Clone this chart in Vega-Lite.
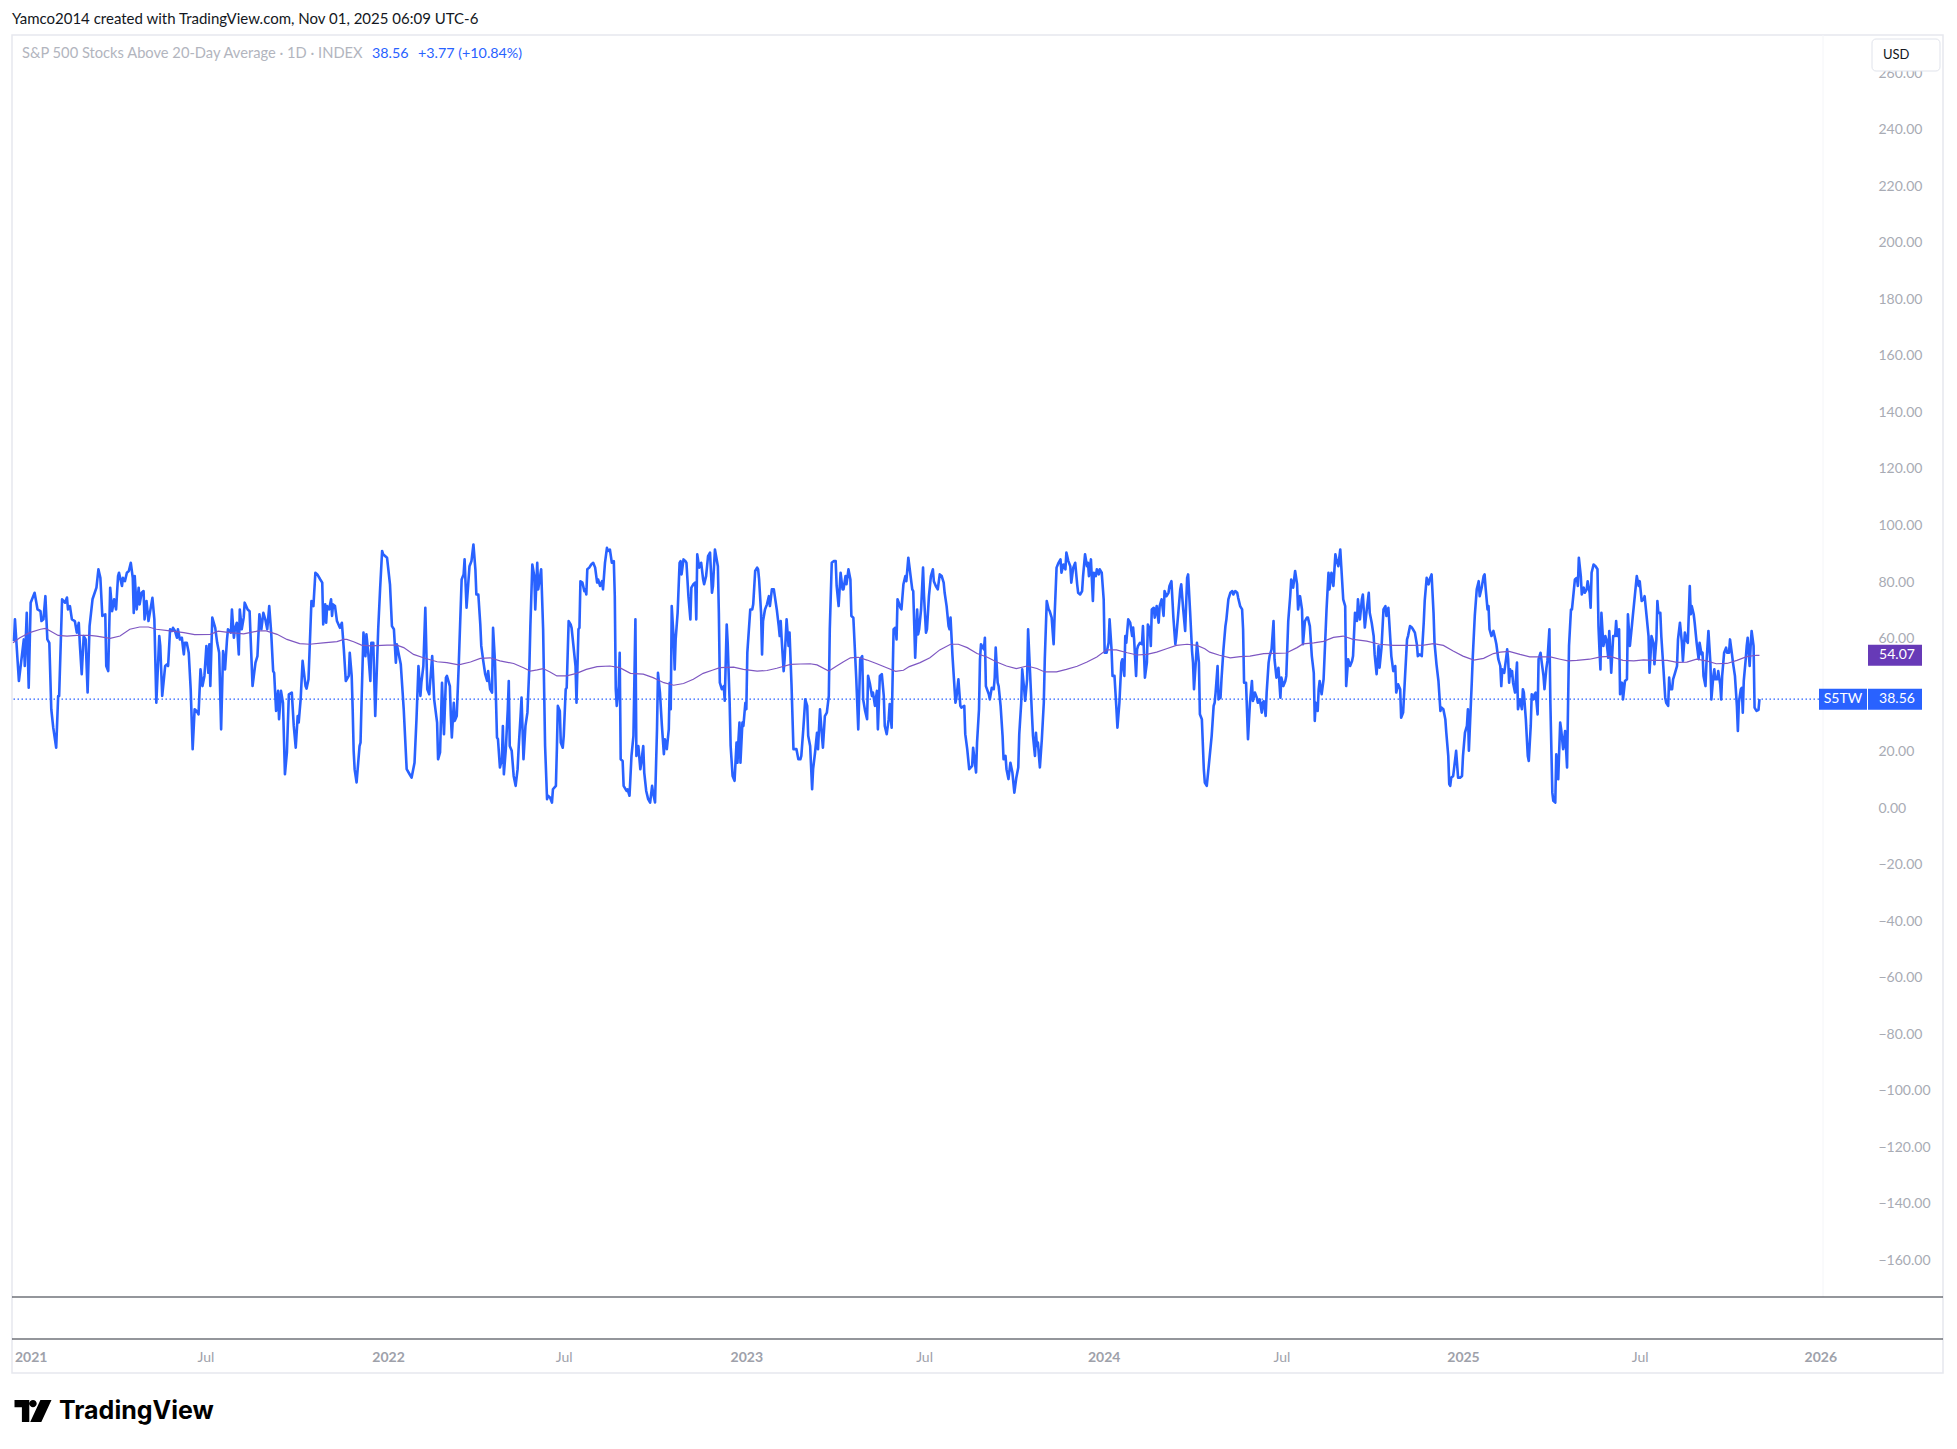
{
"$schema": "https://vega.github.io/schema/vega-lite/v6.json",
"width": 1810,
"height": 1262,
"autosize": {"type": "none"},
"padding": {"left": 13, "top": 35, "right": 134, "bottom": 152},
"background": "#ffffff",
"config": {"view": {"stroke": null}, "font": "Lato"},
"datasets": {
"s5tw": [
{"date":"2020-12-18","value":59.1},{"date":"2020-12-19","value":66.8},{"date":"2020-12-23","value":45.0},{"date":"2020-12-26","value":53.8},{"date":"2020-12-28","value":59.7},{"date":"2020-12-29","value":50.3},{"date":"2020-12-31","value":69.1},
{"date":"2021-01-02","value":42.6},{"date":"2021-01-04","value":72.7},{"date":"2021-01-08","value":76.2},{"date":"2021-01-11","value":70.3},{"date":"2021-01-14","value":69.7},{"date":"2021-01-15","value":66.2},{"date":"2021-01-17","value":66.8},{"date":"2021-01-19","value":75.0},{"date":"2021-01-21","value":59.7},{"date":"2021-01-23","value":58.5},{"date":"2021-01-25","value":35.0},{"date":"2021-01-27","value":28.5},{"date":"2021-01-30","value":21.4},
{"date":"2021-02-01","value":39.7},{"date":"2021-02-02","value":39.7},{"date":"2021-02-05","value":73.9},{"date":"2021-02-08","value":72.7},{"date":"2021-02-10","value":74.5},{"date":"2021-02-11","value":70.3},{"date":"2021-02-13","value":71.5},{"date":"2021-02-15","value":66.8},{"date":"2021-02-18","value":66.2},{"date":"2021-02-20","value":62.1},{"date":"2021-02-22","value":65.6},{"date":"2021-02-23","value":58.5},{"date":"2021-02-25","value":47.4},{"date":"2021-02-27","value":60.9},
{"date":"2021-03-01","value":59.7},{"date":"2021-03-03","value":40.9},{"date":"2021-03-05","value":64.4},{"date":"2021-03-08","value":73.9},{"date":"2021-03-12","value":78.0},{"date":"2021-03-14","value":84.5},{"date":"2021-03-16","value":81.5},{"date":"2021-03-18","value":68.0},{"date":"2021-03-21","value":68.6},{"date":"2021-03-22","value":50.3},{"date":"2021-03-24","value":48.5},{"date":"2021-03-26","value":78.0},{"date":"2021-03-28","value":69.7},{"date":"2021-03-30","value":73.9},
{"date":"2021-04-01","value":70.3},{"date":"2021-04-03","value":82.1},{"date":"2021-04-04","value":83.3},{"date":"2021-04-07","value":78.6},{"date":"2021-04-08","value":81.5},{"date":"2021-04-10","value":80.3},{"date":"2021-04-12","value":83.3},{"date":"2021-04-14","value":83.9},{"date":"2021-04-16","value":86.8},{"date":"2021-04-18","value":81.5},{"date":"2021-04-19","value":69.1},{"date":"2021-04-20","value":82.1},{"date":"2021-04-22","value":70.3},{"date":"2021-04-24","value":78.0},{"date":"2021-04-25","value":72.1},{"date":"2021-04-27","value":76.2},{"date":"2021-04-29","value":76.8},{"date":"2021-04-30","value":66.8},
{"date":"2021-05-02","value":73.3},{"date":"2021-05-04","value":66.2},{"date":"2021-05-06","value":70.3},{"date":"2021-05-08","value":74.4},{"date":"2021-05-10","value":66.8},{"date":"2021-05-12","value":37.3},{"date":"2021-05-15","value":60.9},{"date":"2021-05-16","value":57.4},{"date":"2021-05-18","value":39.7},{"date":"2021-05-21","value":50.3},{"date":"2021-05-23","value":50.9},{"date":"2021-05-24","value":50.3},{"date":"2021-05-26","value":63.3},{"date":"2021-05-28","value":62.7},{"date":"2021-05-29","value":63.8},{"date":"2021-05-31","value":62.7},
{"date":"2021-06-02","value":60.3},{"date":"2021-06-03","value":63.3},{"date":"2021-06-05","value":59.7},{"date":"2021-06-07","value":60.3},{"date":"2021-06-09","value":54.4},{"date":"2021-06-10","value":58.5},{"date":"2021-06-12","value":58.5},{"date":"2021-06-14","value":55.0},{"date":"2021-06-16","value":42.1},{"date":"2021-06-18","value":20.9},{"date":"2021-06-20","value":35.0},{"date":"2021-06-22","value":34.4},{"date":"2021-06-24","value":33.2},{"date":"2021-06-26","value":49.1},{"date":"2021-06-28","value":43.2},{"date":"2021-06-30","value":46.8},
{"date":"2021-07-02","value":57.4},{"date":"2021-07-04","value":47.9},{"date":"2021-07-05","value":58.0},{"date":"2021-07-06","value":43.2},{"date":"2021-07-08","value":67.4},{"date":"2021-07-11","value":63.8},{"date":"2021-07-13","value":58.5},{"date":"2021-07-15","value":55.0},{"date":"2021-07-17","value":27.9},{"date":"2021-07-19","value":55.6},{"date":"2021-07-21","value":49.1},{"date":"2021-07-23","value":59.7},{"date":"2021-07-24","value":63.3},{"date":"2021-07-27","value":62.1},{"date":"2021-07-28","value":70.3},{"date":"2021-07-30","value":60.3},{"date":"2021-07-31","value":63.3},
{"date":"2021-08-02","value":65.6},{"date":"2021-08-04","value":54.4},{"date":"2021-08-05","value":70.3},{"date":"2021-08-07","value":63.3},{"date":"2021-08-09","value":67.4},{"date":"2021-08-10","value":72.7},{"date":"2021-08-13","value":70.3},{"date":"2021-08-15","value":69.7},{"date":"2021-08-18","value":43.2},{"date":"2021-08-21","value":51.5},{"date":"2021-08-23","value":53.8},{"date":"2021-08-25","value":68.6},{"date":"2021-08-27","value":63.3},{"date":"2021-08-29","value":69.1},{"date":"2021-08-31","value":66.8},
{"date":"2021-09-02","value":63.3},{"date":"2021-09-04","value":71.5},{"date":"2021-09-06","value":62.1},{"date":"2021-09-08","value":48.5},{"date":"2021-09-09","value":47.9},{"date":"2021-09-11","value":34.4},{"date":"2021-09-13","value":41.5},{"date":"2021-09-14","value":31.5},{"date":"2021-09-16","value":41.5},{"date":"2021-09-18","value":37.3},{"date":"2021-09-20","value":12.0},{"date":"2021-09-22","value":19.7},{"date":"2021-09-24","value":40.3},{"date":"2021-09-27","value":40.9},{"date":"2021-09-29","value":29.1},
{"date":"2021-10-01","value":21.4},{"date":"2021-10-03","value":32.6},{"date":"2021-10-04","value":30.3},{"date":"2021-10-06","value":38.5},{"date":"2021-10-08","value":52.1},{"date":"2021-10-11","value":43.2},{"date":"2021-10-12","value":42.3},{"date":"2021-10-14","value":45.6},{"date":"2021-10-17","value":73.3},{"date":"2021-10-19","value":71.5},{"date":"2021-10-21","value":83.3},{"date":"2021-10-23","value":82.7},{"date":"2021-10-26","value":80.9},{"date":"2021-10-28","value":79.8},{"date":"2021-10-29","value":65.0},{"date":"2021-10-31","value":72.1},
{"date":"2021-11-01","value":65.6},{"date":"2021-11-02","value":71.5},{"date":"2021-11-04","value":70.3},{"date":"2021-11-06","value":73.9},{"date":"2021-11-07","value":68.0},{"date":"2021-11-08","value":72.1},{"date":"2021-11-10","value":71.5},{"date":"2021-11-12","value":66.2},{"date":"2021-11-15","value":63.8},{"date":"2021-11-17","value":65.6},{"date":"2021-11-19","value":56.2},{"date":"2021-11-21","value":45.0},{"date":"2021-11-24","value":46.8},{"date":"2021-11-25","value":55.0},{"date":"2021-11-27","value":46.8},{"date":"2021-11-28","value":35.0},{"date":"2021-11-29","value":20.3},{"date":"2021-11-30","value":13.8},
{"date":"2021-12-02","value":9.1},{"date":"2021-12-05","value":22.0},{"date":"2021-12-06","value":23.2},{"date":"2021-12-07","value":37.3},{"date":"2021-12-09","value":62.1},{"date":"2021-12-11","value":53.8},{"date":"2021-12-12","value":61.5},{"date":"2021-12-14","value":54.4},{"date":"2021-12-16","value":45.0},{"date":"2021-12-17","value":58.5},{"date":"2021-12-19","value":58.5},{"date":"2021-12-21","value":32.6},{"date":"2021-12-24","value":63.3},{"date":"2021-12-26","value":78.0},{"date":"2021-12-28","value":91.0},{"date":"2021-12-29","value":89.8},
{"date":"2022-01-02","value":88.6},{"date":"2022-01-05","value":79.2},{"date":"2022-01-07","value":64.4},{"date":"2022-01-09","value":63.3},{"date":"2022-01-11","value":51.5},{"date":"2022-01-12","value":58.0},{"date":"2022-01-14","value":54.4},{"date":"2022-01-16","value":50.9},{"date":"2022-01-19","value":35.0},{"date":"2022-01-22","value":13.8},{"date":"2022-01-25","value":12.0},{"date":"2022-01-27","value":10.8},{"date":"2022-01-30","value":16.1},
{"date":"2022-02-01","value":31.5},{"date":"2022-02-03","value":50.3},{"date":"2022-02-05","value":39.7},{"date":"2022-02-06","value":44.4},{"date":"2022-02-08","value":50.3},{"date":"2022-02-10","value":70.9},{"date":"2022-02-12","value":42.1},{"date":"2022-02-14","value":40.3},{"date":"2022-02-17","value":53.8},{"date":"2022-02-19","value":38.5},{"date":"2022-02-22","value":30.3},{"date":"2022-02-23","value":17.3},{"date":"2022-02-25","value":19.7},{"date":"2022-02-27","value":44.4},{"date":"2022-02-28","value":35.0},
{"date":"2022-03-01","value":26.2},{"date":"2022-03-03","value":46.2},{"date":"2022-03-04","value":46.8},{"date":"2022-03-07","value":43.2},{"date":"2022-03-08","value":32.6},{"date":"2022-03-09","value":25.0},{"date":"2022-03-11","value":37.3},{"date":"2022-03-12","value":30.9},{"date":"2022-03-14","value":32.6},{"date":"2022-03-16","value":50.3},{"date":"2022-03-19","value":80.9},{"date":"2022-03-21","value":82.7},{"date":"2022-03-22","value":88.0},{"date":"2022-03-24","value":70.9},{"date":"2022-03-27","value":85.6},{"date":"2022-03-29","value":87.4},{"date":"2022-03-31","value":93.3},
{"date":"2022-04-02","value":84.5},{"date":"2022-04-03","value":75.6},{"date":"2022-04-05","value":75.6},{"date":"2022-04-07","value":65.0},{"date":"2022-04-08","value":57.4},{"date":"2022-04-10","value":52.1},{"date":"2022-04-12","value":47.4},{"date":"2022-04-14","value":45.0},{"date":"2022-04-15","value":48.5},{"date":"2022-04-17","value":42.1},{"date":"2022-04-19","value":40.9},{"date":"2022-04-20","value":63.8},{"date":"2022-04-22","value":51.5},{"date":"2022-04-24","value":25.0},{"date":"2022-04-25","value":24.4},{"date":"2022-04-27","value":14.4},{"date":"2022-04-29","value":17.3},{"date":"2022-04-30","value":29.1},
{"date":"2022-05-01","value":12.0},{"date":"2022-05-03","value":20.9},{"date":"2022-05-05","value":35.0},{"date":"2022-05-06","value":45.0},{"date":"2022-05-07","value":22.0},{"date":"2022-05-09","value":20.3},{"date":"2022-05-11","value":11.4},{"date":"2022-05-13","value":7.9},{"date":"2022-05-15","value":13.8},{"date":"2022-05-16","value":20.9},{"date":"2022-05-18","value":32.6},{"date":"2022-05-19","value":39.1},{"date":"2022-05-21","value":17.3},{"date":"2022-05-23","value":29.1},{"date":"2022-05-25","value":33.8},{"date":"2022-05-27","value":50.3},{"date":"2022-05-28","value":64.4},{"date":"2022-05-30","value":86.2},
{"date":"2022-06-01","value":82.1},{"date":"2022-06-02","value":70.3},{"date":"2022-06-04","value":86.8},{"date":"2022-06-05","value":77.4},{"date":"2022-06-06","value":79.8},{"date":"2022-06-08","value":84.5},{"date":"2022-06-10","value":63.3},{"date":"2022-06-12","value":22.0},{"date":"2022-06-14","value":3.2},{"date":"2022-06-15","value":4.4},{"date":"2022-06-17","value":3.8},{"date":"2022-06-19","value":2.0},{"date":"2022-06-20","value":6.7},{"date":"2022-06-23","value":7.9},{"date":"2022-06-24","value":20.9},{"date":"2022-06-25","value":36.2},{"date":"2022-06-27","value":34.4},{"date":"2022-06-28","value":23.2},{"date":"2022-06-30","value":21.4},
{"date":"2022-07-01","value":25.6},{"date":"2022-07-03","value":42.1},{"date":"2022-07-04","value":42.6},{"date":"2022-07-06","value":66.2},{"date":"2022-07-08","value":65.0},{"date":"2022-07-09","value":63.8},{"date":"2022-07-13","value":50.3},{"date":"2022-07-14","value":37.3},{"date":"2022-07-16","value":63.3},{"date":"2022-07-17","value":63.8},{"date":"2022-07-18","value":80.3},{"date":"2022-07-20","value":79.8},{"date":"2022-07-22","value":76.8},{"date":"2022-07-23","value":77.4},{"date":"2022-07-24","value":75.6},{"date":"2022-07-25","value":84.5},{"date":"2022-07-27","value":85.1},{"date":"2022-07-29","value":86.2},{"date":"2022-07-31","value":86.8},
{"date":"2022-08-02","value":85.1},{"date":"2022-08-04","value":79.8},{"date":"2022-08-05","value":80.9},{"date":"2022-08-07","value":78.6},{"date":"2022-08-09","value":80.3},{"date":"2022-08-10","value":77.4},{"date":"2022-08-12","value":86.8},{"date":"2022-08-14","value":92.1},{"date":"2022-08-15","value":91.0},{"date":"2022-08-17","value":91.5},{"date":"2022-08-19","value":86.8},{"date":"2022-08-21","value":87.4},{"date":"2022-08-22","value":75.0},{"date":"2022-08-23","value":42.1},{"date":"2022-08-24","value":36.2},{"date":"2022-08-26","value":43.2},{"date":"2022-08-27","value":55.0},{"date":"2022-08-28","value":17.3},{"date":"2022-08-30","value":16.7},{"date":"2022-08-31","value":7.9},
{"date":"2022-09-03","value":6.1},{"date":"2022-09-04","value":6.7},{"date":"2022-09-06","value":4.4},{"date":"2022-09-08","value":18.5},{"date":"2022-09-10","value":25.6},{"date":"2022-09-12","value":66.8},{"date":"2022-09-13","value":18.5},{"date":"2022-09-15","value":22.0},{"date":"2022-09-17","value":13.8},{"date":"2022-09-18","value":16.1},{"date":"2022-09-20","value":22.0},{"date":"2022-09-21","value":12.6},{"date":"2022-09-23","value":6.1},{"date":"2022-09-25","value":3.2},{"date":"2022-09-27","value":2.0},{"date":"2022-09-29","value":7.9},{"date":"2022-09-30","value":5.5},
{"date":"2022-10-02","value":2.0},{"date":"2022-10-04","value":27.9},{"date":"2022-10-05","value":47.9},{"date":"2022-10-07","value":40.9},{"date":"2022-10-09","value":29.1},{"date":"2022-10-11","value":19.1},{"date":"2022-10-12","value":24.4},{"date":"2022-10-14","value":20.9},{"date":"2022-10-16","value":27.9},{"date":"2022-10-17","value":44.4},{"date":"2022-10-18","value":35.0},{"date":"2022-10-19","value":71.5},{"date":"2022-10-21","value":59.7},{"date":"2022-10-22","value":49.1},{"date":"2022-10-23","value":59.7},{"date":"2022-10-25","value":69.1},{"date":"2022-10-27","value":86.8},{"date":"2022-10-28","value":87.4},{"date":"2022-10-29","value":82.7},{"date":"2022-10-31","value":88.0},
{"date":"2022-11-02","value":87.4},{"date":"2022-11-03","value":86.8},{"date":"2022-11-05","value":75.0},{"date":"2022-11-07","value":66.8},{"date":"2022-11-08","value":78.0},{"date":"2022-11-10","value":79.2},{"date":"2022-11-12","value":79.8},{"date":"2022-11-13","value":66.8},{"date":"2022-11-14","value":89.8},{"date":"2022-11-16","value":85.1},{"date":"2022-11-18","value":86.8},{"date":"2022-11-20","value":80.9},{"date":"2022-11-21","value":79.2},{"date":"2022-11-23","value":82.1},{"date":"2022-11-25","value":89.2},{"date":"2022-11-27","value":90.4},{"date":"2022-11-29","value":76.2},{"date":"2022-11-30","value":78.6},
{"date":"2022-12-02","value":91.5},{"date":"2022-12-05","value":85.6},{"date":"2022-12-06","value":69.1},{"date":"2022-12-07","value":44.4},{"date":"2022-12-09","value":42.1},{"date":"2022-12-11","value":43.2},{"date":"2022-12-12","value":38.0},{"date":"2022-12-14","value":65.0},{"date":"2022-12-15","value":58.5},{"date":"2022-12-17","value":37.3},{"date":"2022-12-18","value":22.0},{"date":"2022-12-20","value":11.4},{"date":"2022-12-22","value":9.7},{"date":"2022-12-24","value":23.2},{"date":"2022-12-25","value":16.1},{"date":"2022-12-26","value":24.4},{"date":"2022-12-27","value":30.3},{"date":"2022-12-28","value":16.1},{"date":"2022-12-30","value":30.3},{"date":"2022-12-31","value":29.1},
{"date":"2023-01-02","value":37.3},{"date":"2023-01-03","value":35.0},{"date":"2023-01-04","value":55.0},{"date":"2023-01-07","value":70.3},{"date":"2023-01-09","value":70.3},{"date":"2023-01-10","value":72.1},{"date":"2023-01-12","value":83.9},{"date":"2023-01-14","value":85.1},{"date":"2023-01-15","value":84.5},{"date":"2023-01-16","value":80.9},{"date":"2023-01-18","value":69.1},{"date":"2023-01-19","value":54.4},{"date":"2023-01-20","value":66.2},{"date":"2023-01-22","value":70.3},{"date":"2023-01-24","value":72.1},{"date":"2023-01-26","value":75.0},{"date":"2023-01-27","value":71.5},{"date":"2023-01-29","value":77.4},{"date":"2023-01-31","value":77.4},
{"date":"2023-02-01","value":75.0},{"date":"2023-02-03","value":70.3},{"date":"2023-02-05","value":64.4},{"date":"2023-02-06","value":60.9},{"date":"2023-02-07","value":66.2},{"date":"2023-02-08","value":59.7},{"date":"2023-02-10","value":48.5},{"date":"2023-02-11","value":52.7},{"date":"2023-02-13","value":66.8},{"date":"2023-02-15","value":57.4},{"date":"2023-02-16","value":62.1},{"date":"2023-02-18","value":43.8},{"date":"2023-02-20","value":20.9},{"date":"2023-02-22","value":20.9},{"date":"2023-02-23","value":20.9},{"date":"2023-02-25","value":17.3},{"date":"2023-02-27","value":17.3},{"date":"2023-02-28","value":18.5},
{"date":"2023-03-02","value":27.9},{"date":"2023-03-04","value":38.5},{"date":"2023-03-06","value":36.2},{"date":"2023-03-07","value":25.6},{"date":"2023-03-09","value":22.0},{"date":"2023-03-11","value":6.7},{"date":"2023-03-12","value":13.8},{"date":"2023-03-14","value":19.7},{"date":"2023-03-16","value":26.7},{"date":"2023-03-17","value":20.9},{"date":"2023-03-19","value":35.0},{"date":"2023-03-21","value":25.6},{"date":"2023-03-22","value":21.4},{"date":"2023-03-24","value":32.6},{"date":"2023-03-26","value":33.8},{"date":"2023-03-28","value":39.7},{"date":"2023-03-29","value":63.3},{"date":"2023-03-31","value":86.8},
{"date":"2023-04-02","value":87.4},{"date":"2023-04-04","value":87.4},{"date":"2023-04-05","value":78.6},{"date":"2023-04-07","value":71.5},{"date":"2023-04-09","value":83.3},{"date":"2023-04-11","value":77.4},{"date":"2023-04-12","value":77.4},{"date":"2023-04-14","value":82.1},{"date":"2023-04-15","value":79.2},{"date":"2023-04-17","value":84.5},{"date":"2023-04-19","value":80.9},{"date":"2023-04-20","value":68.0},{"date":"2023-04-22","value":67.4},{"date":"2023-04-25","value":45.6},{"date":"2023-04-27","value":27.9},{"date":"2023-04-29","value":52.7},
{"date":"2023-05-01","value":53.8},{"date":"2023-05-02","value":38.5},{"date":"2023-05-04","value":34.4},{"date":"2023-05-06","value":31.5},{"date":"2023-05-07","value":46.8},{"date":"2023-05-09","value":43.8},{"date":"2023-05-11","value":39.7},{"date":"2023-05-12","value":40.9},{"date":"2023-05-14","value":36.2},{"date":"2023-05-16","value":41.5},{"date":"2023-05-17","value":27.9},{"date":"2023-05-19","value":46.8},{"date":"2023-05-21","value":47.4},{"date":"2023-05-23","value":39.7},{"date":"2023-05-24","value":29.1},{"date":"2023-05-26","value":26.2},{"date":"2023-05-28","value":31.5},{"date":"2023-05-29","value":36.8},{"date":"2023-05-31","value":28.5},
{"date":"2023-06-02","value":63.3},{"date":"2023-06-04","value":63.9},{"date":"2023-06-05","value":59.7},{"date":"2023-06-06","value":73.9},{"date":"2023-06-09","value":70.9},{"date":"2023-06-10","value":70.3},{"date":"2023-06-12","value":79.2},{"date":"2023-06-14","value":82.1},{"date":"2023-06-15","value":80.3},{"date":"2023-06-17","value":88.6},{"date":"2023-06-21","value":77.4},{"date":"2023-06-22","value":76.8},{"date":"2023-06-24","value":53.2},{"date":"2023-06-26","value":70.3},{"date":"2023-06-27","value":61.5},{"date":"2023-06-28","value":63.3},{"date":"2023-06-30","value":70.3},
{"date":"2023-07-02","value":85.1},{"date":"2023-07-03","value":75.0},{"date":"2023-07-05","value":62.1},{"date":"2023-07-06","value":63.3},{"date":"2023-07-08","value":75.0},{"date":"2023-07-10","value":82.1},{"date":"2023-07-12","value":84.5},{"date":"2023-07-13","value":80.3},{"date":"2023-07-15","value":78.6},{"date":"2023-07-17","value":77.4},{"date":"2023-07-19","value":82.7},{"date":"2023-07-21","value":82.1},{"date":"2023-07-23","value":79.8},{"date":"2023-07-24","value":76.2},{"date":"2023-07-26","value":71.5},{"date":"2023-07-28","value":64.4},{"date":"2023-07-29","value":63.3},{"date":"2023-07-30","value":67.4},
{"date":"2023-08-01","value":53.8},{"date":"2023-08-04","value":37.3},{"date":"2023-08-05","value":39.1},{"date":"2023-08-07","value":45.6},{"date":"2023-08-09","value":36.2},{"date":"2023-08-10","value":35.6},{"date":"2023-08-13","value":36.2},{"date":"2023-08-14","value":26.2},{"date":"2023-08-16","value":20.9},{"date":"2023-08-18","value":13.8},{"date":"2023-08-21","value":15.0},{"date":"2023-08-22","value":21.4},{"date":"2023-08-25","value":12.6},{"date":"2023-08-26","value":23.2},{"date":"2023-08-28","value":35.0},{"date":"2023-08-29","value":52.7},{"date":"2023-08-30","value":58.0},
{"date":"2023-09-02","value":56.2},{"date":"2023-09-03","value":60.3},{"date":"2023-09-04","value":43.2},{"date":"2023-09-07","value":40.3},{"date":"2023-09-08","value":38.5},{"date":"2023-09-10","value":42.6},{"date":"2023-09-12","value":42.1},{"date":"2023-09-13","value":46.2},{"date":"2023-09-14","value":56.8},{"date":"2023-09-16","value":44.4},{"date":"2023-09-17","value":43.2},{"date":"2023-09-19","value":36.2},{"date":"2023-09-21","value":25.6},{"date":"2023-09-22","value":17.3},{"date":"2023-09-24","value":18.5},{"date":"2023-09-25","value":13.8},{"date":"2023-09-27","value":10.3},{"date":"2023-09-29","value":16.1},
{"date":"2023-10-01","value":12.6},{"date":"2023-10-03","value":5.5},{"date":"2023-10-05","value":10.8},{"date":"2023-10-07","value":14.4},{"date":"2023-10-08","value":26.2},{"date":"2023-10-10","value":37.3},{"date":"2023-10-11","value":49.1},{"date":"2023-10-13","value":42.1},{"date":"2023-10-14","value":38.0},{"date":"2023-10-16","value":45.6},{"date":"2023-10-17","value":63.3},{"date":"2023-10-19","value":47.9},{"date":"2023-10-21","value":32.6},{"date":"2023-10-22","value":25.6},{"date":"2023-10-24","value":18.5},{"date":"2023-10-25","value":26.7},{"date":"2023-10-26","value":22.0},{"date":"2023-10-27","value":23.2},{"date":"2023-10-29","value":14.4},{"date":"2023-10-31","value":24.4},
{"date":"2023-11-02","value":37.3},{"date":"2023-11-03","value":52.7},{"date":"2023-11-05","value":73.3},{"date":"2023-11-07","value":70.3},{"date":"2023-11-08","value":69.7},{"date":"2023-11-10","value":67.4},{"date":"2023-11-12","value":58.0},{"date":"2023-11-13","value":68.0},{"date":"2023-11-15","value":85.1},{"date":"2023-11-17","value":86.8},{"date":"2023-11-19","value":88.0},{"date":"2023-11-20","value":83.3},{"date":"2023-11-22","value":86.2},{"date":"2023-11-24","value":84.5},{"date":"2023-11-25","value":90.4},{"date":"2023-11-27","value":87.4},{"date":"2023-11-29","value":85.6},{"date":"2023-11-30","value":79.8},
{"date":"2023-12-02","value":85.1},{"date":"2023-12-04","value":86.8},{"date":"2023-12-06","value":79.2},{"date":"2023-12-07","value":76.2},{"date":"2023-12-09","value":75.6},{"date":"2023-12-11","value":76.8},{"date":"2023-12-12","value":82.1},{"date":"2023-12-14","value":89.8},{"date":"2023-12-16","value":85.6},{"date":"2023-12-17","value":86.8},{"date":"2023-12-18","value":82.1},{"date":"2023-12-20","value":88.0},{"date":"2023-12-22","value":73.3},{"date":"2023-12-23","value":83.3},{"date":"2023-12-25","value":82.1},{"date":"2023-12-26","value":84.5},{"date":"2023-12-28","value":82.7},{"date":"2023-12-29","value":84.5},{"date":"2023-12-31","value":83.3},
{"date":"2024-01-02","value":73.9},{"date":"2024-01-03","value":55.0},{"date":"2024-01-05","value":55.0},{"date":"2024-01-07","value":58.5},{"date":"2024-01-08","value":66.8},{"date":"2024-01-10","value":56.2},{"date":"2024-01-11","value":46.8},{"date":"2024-01-13","value":46.8},{"date":"2024-01-15","value":35.0},{"date":"2024-01-16","value":28.5},{"date":"2024-01-18","value":37.3},{"date":"2024-01-20","value":51.5},{"date":"2024-01-21","value":52.7},{"date":"2024-01-23","value":46.8},{"date":"2024-01-24","value":60.9},{"date":"2024-01-25","value":58.5},{"date":"2024-01-27","value":66.8},{"date":"2024-01-29","value":65.6},{"date":"2024-01-31","value":60.9},
{"date":"2024-02-01","value":63.9},{"date":"2024-02-02","value":59.7},{"date":"2024-02-04","value":46.8},{"date":"2024-02-05","value":56.2},{"date":"2024-02-06","value":57.4},{"date":"2024-02-08","value":58.5},{"date":"2024-02-10","value":58.0},{"date":"2024-02-11","value":64.4},{"date":"2024-02-13","value":46.2},{"date":"2024-02-15","value":51.5},{"date":"2024-02-16","value":65.0},{"date":"2024-02-18","value":63.3},{"date":"2024-02-19","value":57.4},{"date":"2024-02-20","value":70.3},{"date":"2024-02-22","value":70.9},{"date":"2024-02-23","value":67.4},{"date":"2024-02-25","value":71.5},{"date":"2024-02-27","value":65.6},{"date":"2024-02-28","value":71.5},
{"date":"2024-03-01","value":73.9},{"date":"2024-03-03","value":68.0},{"date":"2024-03-04","value":76.8},{"date":"2024-03-06","value":75.0},{"date":"2024-03-08","value":76.2},{"date":"2024-03-09","value":78.6},{"date":"2024-03-11","value":80.3},{"date":"2024-03-13","value":67.4},{"date":"2024-03-15","value":58.0},{"date":"2024-03-16","value":60.9},{"date":"2024-03-18","value":69.1},{"date":"2024-03-20","value":77.4},{"date":"2024-03-21","value":79.2},{"date":"2024-03-23","value":70.3},{"date":"2024-03-25","value":62.7},{"date":"2024-03-27","value":81.5},{"date":"2024-03-28","value":82.7},{"date":"2024-03-30","value":69.7},
{"date":"2024-04-01","value":55.6},{"date":"2024-04-02","value":51.5},{"date":"2024-04-03","value":42.1},{"date":"2024-04-05","value":52.7},{"date":"2024-04-06","value":58.5},{"date":"2024-04-08","value":51.5},{"date":"2024-04-09","value":33.2},{"date":"2024-04-11","value":31.5},{"date":"2024-04-13","value":13.8},{"date":"2024-04-14","value":9.1},{"date":"2024-04-16","value":7.9},{"date":"2024-04-18","value":14.9},{"date":"2024-04-21","value":25.6},{"date":"2024-04-23","value":36.2},{"date":"2024-04-24","value":37.3},{"date":"2024-04-25","value":40.9},{"date":"2024-04-27","value":50.3},{"date":"2024-04-28","value":38.5},{"date":"2024-04-30","value":39.1},
{"date":"2024-05-01","value":45.6},{"date":"2024-05-03","value":56.2},{"date":"2024-05-05","value":64.4},{"date":"2024-05-06","value":66.8},{"date":"2024-05-08","value":73.9},{"date":"2024-05-10","value":76.2},{"date":"2024-05-12","value":76.8},{"date":"2024-05-13","value":75.6},{"date":"2024-05-15","value":76.8},{"date":"2024-05-17","value":76.2},{"date":"2024-05-18","value":74.4},{"date":"2024-05-20","value":71.5},{"date":"2024-05-22","value":70.3},{"date":"2024-05-23","value":63.3},{"date":"2024-05-24","value":44.4},{"date":"2024-05-26","value":44.4},{"date":"2024-05-28","value":24.4},{"date":"2024-05-30","value":37.3},
{"date":"2024-06-01","value":45.0},{"date":"2024-06-02","value":37.9},{"date":"2024-06-04","value":40.9},{"date":"2024-06-06","value":39.1},{"date":"2024-06-07","value":37.3},{"date":"2024-06-09","value":38.5},{"date":"2024-06-11","value":33.8},{"date":"2024-06-12","value":37.3},{"date":"2024-06-13","value":37.9},{"date":"2024-06-15","value":32.6},{"date":"2024-06-16","value":40.9},{"date":"2024-06-18","value":51.5},{"date":"2024-06-19","value":53.8},{"date":"2024-06-21","value":56.2},{"date":"2024-06-23","value":66.2},{"date":"2024-06-24","value":52.7},{"date":"2024-06-26","value":46.2},{"date":"2024-06-28","value":49.7},{"date":"2024-06-30","value":39.1},
{"date":"2024-07-01","value":46.2},{"date":"2024-07-03","value":43.2},{"date":"2024-07-05","value":45.0},{"date":"2024-07-06","value":46.8},{"date":"2024-07-08","value":66.2},{"date":"2024-07-10","value":75.0},{"date":"2024-07-11","value":80.9},{"date":"2024-07-13","value":78.0},{"date":"2024-07-15","value":83.9},{"date":"2024-07-17","value":79.2},{"date":"2024-07-18","value":70.3},{"date":"2024-07-20","value":75.0},{"date":"2024-07-22","value":70.3},{"date":"2024-07-23","value":58.0},{"date":"2024-07-25","value":66.2},{"date":"2024-07-27","value":67.4},{"date":"2024-07-28","value":67.4},{"date":"2024-07-30","value":64.4},
{"date":"2024-08-01","value":53.8},{"date":"2024-08-03","value":47.9},{"date":"2024-08-04","value":30.9},{"date":"2024-08-05","value":37.3},{"date":"2024-08-07","value":34.4},{"date":"2024-08-08","value":42.1},{"date":"2024-08-09","value":45.0},{"date":"2024-08-11","value":40.3},{"date":"2024-08-13","value":45.6},{"date":"2024-08-14","value":53.8},{"date":"2024-08-16","value":70.3},{"date":"2024-08-18","value":83.3},{"date":"2024-08-19","value":77.4},{"date":"2024-08-21","value":83.3},{"date":"2024-08-23","value":78.6},{"date":"2024-08-25","value":89.8},{"date":"2024-08-26","value":88.0},{"date":"2024-08-28","value":85.6},{"date":"2024-08-30","value":91.5},{"date":"2024-08-31","value":85.6},
{"date":"2024-09-02","value":73.9},{"date":"2024-09-04","value":71.5},{"date":"2024-09-05","value":43.2},{"date":"2024-09-07","value":52.7},{"date":"2024-09-09","value":50.3},{"date":"2024-09-11","value":52.1},{"date":"2024-09-12","value":53.8},{"date":"2024-09-14","value":69.1},{"date":"2024-09-16","value":66.2},{"date":"2024-09-17","value":73.9},{"date":"2024-09-19","value":66.8},{"date":"2024-09-21","value":73.9},{"date":"2024-09-22","value":75.6},{"date":"2024-09-24","value":63.9},{"date":"2024-09-26","value":70.3},{"date":"2024-09-28","value":76.2},{"date":"2024-09-29","value":69.1},
{"date":"2024-10-01","value":65.6},{"date":"2024-10-03","value":60.9},{"date":"2024-10-04","value":54.4},{"date":"2024-10-06","value":47.4},{"date":"2024-10-08","value":57.4},{"date":"2024-10-09","value":49.7},{"date":"2024-10-11","value":56.8},{"date":"2024-10-13","value":70.3},{"date":"2024-10-15","value":71.5},{"date":"2024-10-16","value":68.0},{"date":"2024-10-18","value":70.9},{"date":"2024-10-20","value":59.7},{"date":"2024-10-21","value":53.8},{"date":"2024-10-23","value":48.5},{"date":"2024-10-25","value":50.3},{"date":"2024-10-26","value":40.9},{"date":"2024-10-28","value":43.8},{"date":"2024-10-30","value":42.1},{"date":"2024-10-31","value":32.0},
{"date":"2024-11-02","value":33.8},{"date":"2024-11-04","value":46.8},{"date":"2024-11-06","value":59.7},{"date":"2024-11-07","value":60.9},{"date":"2024-11-09","value":64.4},{"date":"2024-11-11","value":63.9},{"date":"2024-11-12","value":63.3},{"date":"2024-11-14","value":62.1},{"date":"2024-11-16","value":58.0},{"date":"2024-11-17","value":53.8},{"date":"2024-11-19","value":54.4},{"date":"2024-11-21","value":53.8},{"date":"2024-11-23","value":65.6},{"date":"2024-11-24","value":73.3},{"date":"2024-11-26","value":81.5},{"date":"2024-11-28","value":79.2},{"date":"2024-11-29","value":80.9},
{"date":"2024-12-01","value":82.7},{"date":"2024-12-03","value":69.1},{"date":"2024-12-04","value":58.5},{"date":"2024-12-06","value":50.9},{"date":"2024-12-08","value":45.0},{"date":"2024-12-10","value":34.4},{"date":"2024-12-11","value":35.6},{"date":"2024-12-13","value":35.0},{"date":"2024-12-15","value":31.5},{"date":"2024-12-16","value":26.7},{"date":"2024-12-18","value":18.5},{"date":"2024-12-19","value":8.5},{"date":"2024-12-20","value":7.9},{"date":"2024-12-21","value":10.8},{"date":"2024-12-23","value":11.4},{"date":"2024-12-25","value":17.3},{"date":"2024-12-26","value":20.3},{"date":"2024-12-28","value":10.8},{"date":"2024-12-30","value":10.8},
{"date":"2025-01-01","value":11.4},{"date":"2025-01-02","value":18.5},{"date":"2025-01-04","value":26.7},{"date":"2025-01-06","value":29.1},{"date":"2025-01-07","value":35.0},{"date":"2025-01-08","value":20.3},{"date":"2025-01-10","value":36.8},{"date":"2025-01-11","value":45.0},{"date":"2025-01-12","value":53.8},{"date":"2025-01-14","value":68.0},{"date":"2025-01-16","value":77.4},{"date":"2025-01-18","value":80.3},{"date":"2025-01-19","value":75.0},{"date":"2025-01-21","value":78.0},{"date":"2025-01-23","value":82.1},{"date":"2025-01-24","value":82.7},{"date":"2025-01-25","value":78.0},{"date":"2025-01-27","value":70.3},{"date":"2025-01-28","value":71.5},{"date":"2025-01-29","value":63.3},{"date":"2025-01-31","value":60.9},
{"date":"2025-02-02","value":62.7},{"date":"2025-02-04","value":59.7},{"date":"2025-02-05","value":58.0},{"date":"2025-02-07","value":52.7},{"date":"2025-02-09","value":50.3},{"date":"2025-02-10","value":43.2},{"date":"2025-02-11","value":49.1},{"date":"2025-02-13","value":47.9},{"date":"2025-02-15","value":53.2},{"date":"2025-02-16","value":56.2},{"date":"2025-02-17","value":52.7},{"date":"2025-02-18","value":44.4},{"date":"2025-02-19","value":49.1},{"date":"2025-02-20","value":46.8},{"date":"2025-02-21","value":48.5},{"date":"2025-02-22","value":44.4},{"date":"2025-02-24","value":40.9},{"date":"2025-02-26","value":51.5},{"date":"2025-02-27","value":35.0},
{"date":"2025-03-01","value":38.5},{"date":"2025-03-03","value":35.0},{"date":"2025-03-04","value":42.1},{"date":"2025-03-05","value":40.9},{"date":"2025-03-07","value":31.5},{"date":"2025-03-09","value":18.5},{"date":"2025-03-10","value":16.7},{"date":"2025-03-12","value":29.1},{"date":"2025-03-13","value":40.3},{"date":"2025-03-15","value":38.5},{"date":"2025-03-16","value":40.3},{"date":"2025-03-17","value":40.9},{"date":"2025-03-19","value":33.2},{"date":"2025-03-20","value":52.7},{"date":"2025-03-22","value":55.0},{"date":"2025-03-23","value":52.1},{"date":"2025-03-25","value":46.8},{"date":"2025-03-26","value":42.1},{"date":"2025-03-28","value":49.7},{"date":"2025-03-29","value":52.1},{"date":"2025-03-31","value":63.3},
{"date":"2025-04-01","value":37.3},{"date":"2025-04-03","value":5.5},{"date":"2025-04-04","value":2.6},{"date":"2025-04-06","value":2.0},{"date":"2025-04-07","value":19.1},{"date":"2025-04-09","value":10.3},{"date":"2025-04-11","value":30.3},{"date":"2025-04-12","value":27.9},{"date":"2025-04-14","value":20.9},{"date":"2025-04-16","value":27.3},{"date":"2025-04-18","value":14.4},{"date":"2025-04-19","value":36.2},{"date":"2025-04-20","value":57.4},{"date":"2025-04-22","value":70.3},{"date":"2025-04-23","value":70.3},{"date":"2025-04-24","value":73.9},{"date":"2025-04-26","value":80.9},{"date":"2025-04-28","value":81.5},{"date":"2025-04-29","value":78.6},{"date":"2025-04-30","value":88.6},
{"date":"2025-05-02","value":82.1},{"date":"2025-05-03","value":75.6},{"date":"2025-05-05","value":78.0},{"date":"2025-05-06","value":76.2},{"date":"2025-05-08","value":77.4},{"date":"2025-05-09","value":80.3},{"date":"2025-05-11","value":76.2},{"date":"2025-05-12","value":70.9},{"date":"2025-05-13","value":83.3},{"date":"2025-05-15","value":86.2},{"date":"2025-05-17","value":85.6},{"date":"2025-05-19","value":84.5},{"date":"2025-05-20","value":64.4},{"date":"2025-05-21","value":56.2},{"date":"2025-05-22","value":49.1},{"date":"2025-05-23","value":69.1},{"date":"2025-05-25","value":57.4},{"date":"2025-05-27","value":60.9},{"date":"2025-05-28","value":59.7},{"date":"2025-05-30","value":53.2},{"date":"2025-05-31","value":62.7},
{"date":"2025-06-01","value":55.6},{"date":"2025-06-02","value":47.9},{"date":"2025-06-04","value":60.9},{"date":"2025-06-06","value":60.9},{"date":"2025-06-07","value":66.2},{"date":"2025-06-08","value":60.9},{"date":"2025-06-10","value":63.3},{"date":"2025-06-11","value":40.3},{"date":"2025-06-13","value":44.4},{"date":"2025-06-14","value":38.5},{"date":"2025-06-16","value":45.0},{"date":"2025-06-18","value":45.6},{"date":"2025-06-19","value":68.6},{"date":"2025-06-21","value":57.4},{"date":"2025-06-23","value":64.4},{"date":"2025-06-24","value":68.0},{"date":"2025-06-26","value":75.0},{"date":"2025-06-28","value":82.1},{"date":"2025-06-30","value":78.6},
{"date":"2025-07-01","value":80.3},{"date":"2025-07-03","value":73.3},{"date":"2025-07-05","value":73.9},{"date":"2025-07-06","value":75.0},{"date":"2025-07-08","value":68.0},{"date":"2025-07-10","value":60.9},{"date":"2025-07-11","value":47.9},{"date":"2025-07-12","value":53.8},{"date":"2025-07-13","value":60.9},{"date":"2025-07-15","value":58.5},{"date":"2025-07-16","value":50.9},{"date":"2025-07-18","value":59.7},{"date":"2025-07-19","value":73.3},{"date":"2025-07-20","value":69.1},{"date":"2025-07-22","value":69.1},{"date":"2025-07-23","value":60.9},{"date":"2025-07-25","value":50.3},{"date":"2025-07-27","value":39.1},{"date":"2025-07-28","value":37.3},{"date":"2025-07-30","value":36.2},{"date":"2025-07-31","value":46.2},
{"date":"2025-08-01","value":42.1},{"date":"2025-08-03","value":42.1},{"date":"2025-08-04","value":45.6},{"date":"2025-08-06","value":47.9},{"date":"2025-08-08","value":50.3},{"date":"2025-08-09","value":59.7},{"date":"2025-08-11","value":65.6},{"date":"2025-08-13","value":58.5},{"date":"2025-08-14","value":52.1},{"date":"2025-08-16","value":62.1},{"date":"2025-08-18","value":59.1},{"date":"2025-08-19","value":58.5},{"date":"2025-08-21","value":78.6},{"date":"2025-08-22","value":68.6},{"date":"2025-08-23","value":71.5},{"date":"2025-08-25","value":68.6},{"date":"2025-08-26","value":65.6},{"date":"2025-08-28","value":58.5},{"date":"2025-08-30","value":52.7},{"date":"2025-08-31","value":58.5},
{"date":"2025-09-02","value":54.4},{"date":"2025-09-03","value":55.0},{"date":"2025-09-04","value":46.8},{"date":"2025-09-06","value":43.2},{"date":"2025-09-07","value":51.5},{"date":"2025-09-09","value":62.7},{"date":"2025-09-11","value":51.5},{"date":"2025-09-12","value":38.5},{"date":"2025-09-14","value":46.8},{"date":"2025-09-15","value":49.1},{"date":"2025-09-16","value":45.6},{"date":"2025-09-18","value":45.6},{"date":"2025-09-19","value":48.5},{"date":"2025-09-21","value":43.8},{"date":"2025-09-22","value":38.5},{"date":"2025-09-23","value":46.8},{"date":"2025-09-25","value":55.0},{"date":"2025-09-27","value":56.8},{"date":"2025-09-28","value":55.0},{"date":"2025-09-30","value":55.0},
{"date":"2025-10-01","value":59.7},{"date":"2025-10-03","value":54.4},{"date":"2025-10-04","value":51.5},{"date":"2025-10-06","value":46.8},{"date":"2025-10-08","value":36.2},{"date":"2025-10-09","value":27.3},{"date":"2025-10-10","value":37.3},{"date":"2025-10-12","value":42.1},{"date":"2025-10-13","value":42.6},{"date":"2025-10-14","value":33.8},{"date":"2025-10-15","value":45.0},{"date":"2025-10-17","value":52.7},{"date":"2025-10-18","value":57.4},{"date":"2025-10-19","value":60.3},{"date":"2025-10-21","value":50.3},{"date":"2025-10-22","value":57.4},{"date":"2025-10-23","value":62.7},{"date":"2025-10-25","value":57.4},{"date":"2025-10-26","value":35.6},{"date":"2025-10-28","value":34.4},{"date":"2025-10-30","value":34.79},{"date":"2025-10-31","value":38.56}
],
"ma": [
{"date":"2020-12-17","ma":58.5},{"date":"2020-12-24","ma":60.3},{"date":"2021-01-03","ma":62.1},{"date":"2021-01-14","ma":63.3},{"date":"2021-01-19","ma":63.6},{"date":"2021-01-24","ma":62.7},{"date":"2021-02-01","ma":61.1},{"date":"2021-02-10","ma":60.9},{"date":"2021-02-20","ma":61.1},{"date":"2021-03-05","ma":61.1},{"date":"2021-03-12","ma":60.9},{"date":"2021-03-26","ma":60.1},{"date":"2021-04-05","ma":60.9},{"date":"2021-04-15","ma":63.3},{"date":"2021-04-25","ma":64.1},{"date":"2021-05-04","ma":64.1},{"date":"2021-05-12","ma":63.3},{"date":"2021-05-26","ma":62.7},{"date":"2021-06-09","ma":62.1},{"date":"2021-06-20","ma":61.4},{"date":"2021-07-06","ma":61.5},{"date":"2021-07-14","ma":62.6},{"date":"2021-07-26","ma":62.1},{"date":"2021-08-09","ma":61.7},{"date":"2021-08-15","ma":62.1},{"date":"2021-08-24","ma":62.7},{"date":"2021-09-01","ma":62.7},{"date":"2021-09-12","ma":61.5},{"date":"2021-09-22","ma":59.7},{"date":"2021-10-05","ma":58.2},{"date":"2021-10-15","ma":58.0},{"date":"2021-10-29","ma":58.5},{"date":"2021-11-12","ma":58.9},{"date":"2021-11-19","ma":59.7},{"date":"2021-11-22","ma":59.7},{"date":"2021-11-29","ma":58.9},{"date":"2021-12-07","ma":57.7},{"date":"2021-12-16","ma":57.4},
{"date":"2022-01-02","ma":57.7},{"date":"2022-01-12","ma":57.7},{"date":"2022-01-19","ma":56.8},{"date":"2022-01-29","ma":54.4},{"date":"2022-02-08","ma":53.2},{"date":"2022-02-22","ma":51.8},{"date":"2022-03-04","ma":51.5},{"date":"2022-03-16","ma":50.7},{"date":"2022-03-28","ma":51.7},{"date":"2022-04-07","ma":53.0},{"date":"2022-04-17","ma":53.2},{"date":"2022-04-27","ma":52.1},{"date":"2022-05-11","ma":51.2},{"date":"2022-05-21","ma":49.7},{"date":"2022-05-28","ma":48.5},{"date":"2022-06-04","ma":48.9},{"date":"2022-06-10","ma":49.4},{"date":"2022-06-17","ma":48.2},{"date":"2022-06-24","ma":46.8},{"date":"2022-07-04","ma":46.8},{"date":"2022-07-14","ma":47.7},{"date":"2022-07-24","ma":49.1},{"date":"2022-08-04","ma":50.1},{"date":"2022-08-17","ma":50.3},{"date":"2022-08-27","ma":49.7},{"date":"2022-09-07","ma":47.7},{"date":"2022-09-20","ma":47.4},{"date":"2022-09-30","ma":46.2},{"date":"2022-10-11","ma":44.4},{"date":"2022-10-21","ma":43.5},{"date":"2022-10-31","ma":44.1},{"date":"2022-11-10","ma":45.6},{"date":"2022-11-20","ma":47.7},{"date":"2022-11-30","ma":48.9},{"date":"2022-12-07","ma":49.7},{"date":"2022-12-21","ma":49.9},{"date":"2022-12-31","ma":49.1},
{"date":"2023-01-14","ma":48.5},{"date":"2023-01-24","ma":48.7},{"date":"2023-02-03","ma":49.5},{"date":"2023-02-17","ma":50.9},{"date":"2023-02-27","ma":51.0},{"date":"2023-03-09","ma":51.1},{"date":"2023-03-16","ma":50.7},{"date":"2023-03-28","ma":48.5},{"date":"2023-04-05","ma":50.3},{"date":"2023-04-12","ma":51.8},{"date":"2023-04-19","ma":53.2},{"date":"2023-04-27","ma":53.4},{"date":"2023-05-06","ma":52.4},{"date":"2023-05-16","ma":51.1},{"date":"2023-05-26","ma":49.7},{"date":"2023-06-04","ma":48.4},{"date":"2023-06-12","ma":48.8},{"date":"2023-06-18","ma":50.1},{"date":"2023-06-29","ma":51.5},{"date":"2023-07-09","ma":53.2},{"date":"2023-07-19","ma":56.0},{"date":"2023-07-30","ma":58.0},{"date":"2023-08-07","ma":58.0},{"date":"2023-08-16","ma":56.8},{"date":"2023-08-26","ma":54.7},{"date":"2023-09-05","ma":53.5},{"date":"2023-09-15","ma":51.7},{"date":"2023-09-25","ma":50.3},{"date":"2023-10-05","ma":49.4},{"date":"2023-10-16","ma":50.3},{"date":"2023-10-26","ma":49.4},{"date":"2023-11-03","ma":48.2},{"date":"2023-11-15","ma":48.2},{"date":"2023-11-25","ma":49.1},{"date":"2023-12-06","ma":50.2},{"date":"2023-12-16","ma":51.7},{"date":"2023-12-26","ma":53.5},
{"date":"2024-01-05","ma":56.0},{"date":"2024-01-15","ma":56.0},{"date":"2024-01-26","ma":55.0},{"date":"2024-02-05","ma":54.2},{"date":"2024-02-15","ma":54.4},{"date":"2024-02-25","ma":55.2},{"date":"2024-03-06","ma":56.4},{"date":"2024-03-16","ma":57.6},{"date":"2024-03-27","ma":58.0},{"date":"2024-04-06","ma":57.6},{"date":"2024-04-14","ma":56.4},{"date":"2024-04-19","ma":55.2},{"date":"2024-04-29","ma":54.1},{"date":"2024-05-10","ma":53.2},{"date":"2024-05-20","ma":53.6},{"date":"2024-05-30","ma":53.8},{"date":"2024-06-13","ma":54.7},{"date":"2024-06-26","ma":54.8},{"date":"2024-07-06","ma":54.9},{"date":"2024-07-17","ma":56.8},{"date":"2024-07-23","ma":58.1},{"date":"2024-08-03","ma":58.5},{"date":"2024-08-13","ma":59.0},{"date":"2024-08-23","ma":60.4},{"date":"2024-09-02","ma":60.9},{"date":"2024-09-12","ma":59.7},{"date":"2024-09-26","ma":59.1},{"date":"2024-10-09","ma":58.0},{"date":"2024-10-23","ma":57.6},{"date":"2024-11-09","ma":57.6},{"date":"2024-11-23","ma":57.7},{"date":"2024-12-03","ma":58.2},{"date":"2024-12-13","ma":57.6},{"date":"2024-12-23","ma":55.6},
{"date":"2025-01-02","ma":53.8},{"date":"2025-01-13","ma":52.4},{"date":"2025-01-23","ma":53.0},{"date":"2025-02-02","ma":54.7},{"date":"2025-02-09","ma":55.2},{"date":"2025-02-18","ma":55.5},{"date":"2025-03-01","ma":54.4},{"date":"2025-03-11","ma":53.5},{"date":"2025-03-22","ma":53.5},{"date":"2025-04-01","ma":53.5},{"date":"2025-04-11","ma":52.7},{"date":"2025-04-19","ma":52.1},{"date":"2025-04-28","ma":52.3},{"date":"2025-05-11","ma":52.7},{"date":"2025-05-22","ma":53.5},{"date":"2025-06-01","ma":53.7},{"date":"2025-06-14","ma":52.3},{"date":"2025-06-25","ma":52.1},{"date":"2025-07-05","ma":52.5},{"date":"2025-07-15","ma":52.3},{"date":"2025-07-29","ma":52.3},{"date":"2025-08-08","ma":51.6},{"date":"2025-08-18","ma":51.7},{"date":"2025-08-28","ma":52.7},{"date":"2025-09-07","ma":52.1},{"date":"2025-09-17","ma":51.1},{"date":"2025-09-28","ma":51.2},{"date":"2025-10-08","ma":52.3},{"date":"2025-10-18","ma":53.6},{"date":"2025-10-28","ma":54.1},{"date":"2025-10-31","ma":54.07}
]
},
"layer": [
{
"data": {"values": [{}]},
"mark": {"type": "rect", "fillOpacity": 0, "stroke": "#e6e8ee", "strokeWidth": 1.5},
"encoding": {"x": {"value": -1}, "x2": {"value": 1930}, "y": {"value": 0}, "y2": {"value": 1338}}
},
{
"data": {"values": [{}]},
"mark": {"type": "rule", "stroke": "#f4f5f8", "strokeWidth": 1},
"encoding": {"x": {"value": 1810}, "y": {"value": 0}, "y2": {"value": 1262}}
},
{
"data": {"values": [{}]},
"mark": {"type": "rule", "stroke": "#2a2e39", "strokeWidth": 1.2},
"encoding": {"x": {"value": -1}, "x2": {"value": 1930}, "y": {"value": 1262}}
},
{
"data": {"values": [{}]},
"mark": {"type": "rule", "stroke": "#2a2e39", "strokeWidth": 1.2},
"encoding": {"x": {"value": -1}, "x2": {"value": 1930}, "y": {"value": 1304}}
},
{
"data": {"name": "s5tw"},
"mark": {"type": "line", "color": "#2962ff", "strokeWidth": 2.6, "strokeJoin": "round"},
"encoding": {
"x": {"field": "date", "type": "temporal", "title": null,
"scale": {"type": "utc", "domain": [{"year": 2020, "month": 12, "date": 17, "utc": true}, {"year": 2026, "month": 1, "date": 3, "hours": 17, "utc": true}]},
"axis": {"orient": "bottom", "values": [{"year": 2021, "month": 1, "date": 4, "utc": true}, {"year": 2021, "month": 7, "date": 1, "utc": true}, {"year": 2022, "month": 1, "date": 3, "utc": true}, {"year": 2022, "month": 7, "date": 1, "utc": true}, {"year": 2023, "month": 1, "date": 3, "utc": true}, {"year": 2023, "month": 7, "date": 3, "utc": true}, {"year": 2024, "month": 1, "date": 2, "utc": true}, {"year": 2024, "month": 7, "date": 1, "utc": true}, {"year": 2025, "month": 1, "date": 2, "utc": true}, {"year": 2025, "month": 7, "date": 1, "utc": true}, {"year": 2026, "month": 1, "date": 1, "utc": true}],
"labelExpr": "utcmonth(datum.value) == 0 ? utcFormat(datum.value, '%Y') : 'Jul'",
"domain": false, "ticks": false, "tickSize": 0, "grid": false, "labelPadding": 53, "labelFontSize": 14, "labelColor": "#9ea1aa", "labelFont": "Lato",
"labelFontWeight": {"condition": {"test": "utcmonth(datum.value) == 0", "value": "bold"}, "value": "normal"},
"labelFlush": false, "labelOverlap": false, "labelBound": false, "title": null}},
"y": {"field": "value", "type": "quantitative", "title": null,
"scale": {"domain": [-172.9, 273.5], "nice": false, "zero": false},
"axis": {"orient": "right", "values": [-160, -140, -120, -100, -80, -60, -40, -20, 0, 20, 40, 60, 80, 100, 120, 140, 160, 180, 200, 220, 240, 260], "format": ".2f", "domain": false, "ticks": false, "tickSize": 0, "grid": false, "labelPadding": 55, "labelAlign": "left", "labelBaseline": "middle", "labelFontSize": 14, "labelColor": "#a8abb4", "labelFont": "Lato", "labelOverlap": false, "labelBound": false, "title": null}}
}
},
{
"data": {"name": "ma"},
"mark": {"type": "line", "color": "#7e57c2", "strokeWidth": 1.2},
"encoding": {
"x": {"field": "date", "type": "temporal"},
"y": {"field": "ma", "type": "quantitative", "title": null}
}
},
{
"data": {"name": "s5tw"},
"mark": {"type": "rule", "color": "#2962ff", "strokeWidth": 1.2, "strokeDash": [1.5, 2.5]},
"encoding": {"y": {"aggregate": {"argmax": "date"}, "field": "value", "type": "quantitative", "title": null}}
},
{
"data": {"name": "ma"},
"mark": {"type": "rule", "color": "#673ab7", "strokeWidth": 21, "strokeCap": "butt"},
"encoding": {"x": {"value": 1855}, "x2": {"value": 1909}, "y": {"aggregate": {"argmax": "date"}, "field": "ma", "type": "quantitative", "title": null}}
},
{
"data": {"name": "ma"},
"mark": {"type": "text", "color": "#ffffff", "fontSize": 14, "align": "center", "baseline": "middle", "font": "Lato"},
"encoding": {"x": {"value": 1884}, "y": {"aggregate": {"argmax": "date"}, "field": "ma", "type": "quantitative", "title": null}, "text": {"aggregate": {"argmax": "date"}, "field": "ma", "type": "quantitative", "format": ".2f"}}
},
{
"data": {"name": "s5tw"},
"mark": {"type": "rule", "color": "#2962ff", "strokeWidth": 21, "strokeCap": "butt"},
"encoding": {"x": {"value": 1806}, "x2": {"value": 1854}, "y": {"aggregate": {"argmax": "date"}, "field": "value", "type": "quantitative", "title": null}}
},
{
"data": {"name": "s5tw"},
"mark": {"type": "rule", "color": "#2962ff", "strokeWidth": 21, "strokeCap": "butt"},
"encoding": {"x": {"value": 1855}, "x2": {"value": 1909}, "y": {"aggregate": {"argmax": "date"}, "field": "value", "type": "quantitative", "title": null}}
},
{
"data": {"name": "s5tw"},
"mark": {"type": "text", "color": "#ffffff", "fontSize": 14, "align": "center", "baseline": "middle", "font": "Lato"},
"encoding": {"x": {"value": 1830}, "y": {"aggregate": {"argmax": "date"}, "field": "value", "type": "quantitative", "title": null}, "text": {"value": "S5TW"}}
},
{
"data": {"name": "s5tw"},
"mark": {"type": "text", "color": "#ffffff", "fontSize": 14, "align": "center", "baseline": "middle", "font": "Lato"},
"encoding": {"x": {"value": 1884}, "y": {"aggregate": {"argmax": "date"}, "field": "value", "type": "quantitative", "title": null}, "text": {"aggregate": {"argmax": "date"}, "field": "value", "type": "quantitative", "format": ".2f"}}
},
{
"data": {"values": [{}]},
"mark": {"type": "rect", "fill": "#ffffff", "stroke": "#e0e3eb", "strokeWidth": 1, "cornerRadius": 4},
"encoding": {"x": {"value": 1859}, "x2": {"value": 1927}, "y": {"value": 4}, "y2": {"value": 36}}
},
{
"data": {"values": [{}]},
"mark": {"type": "text", "text": "USD", "fontSize": 13, "color": "#131722", "align": "left", "baseline": "middle", "font": "Lato"},
"encoding": {"x": {"value": 1870}, "y": {"value": 20}}
},
{
"data": {"values": [{}]},
"mark": {"type": "text", "text": "Yamco2014 created with TradingView.com, Nov 01, 2025 06:09 UTC-6", "fontSize": 15, "color": "#131722", "align": "left", "baseline": "middle", "font": "Lato"},
"encoding": {"x": {"value": -1}, "y": {"value": -16}}
},
{
"data": {"values": [{}]},
"mark": {"type": "text", "text": "S&P 500 Stocks Above 20-Day Average · 1D · INDEX", "fontSize": 14.7, "color": "#b2b5be", "align": "left", "baseline": "middle", "font": "Lato"},
"encoding": {"x": {"value": 9}, "y": {"value": 19}}
},
{
"data": {"values": [{}]},
"mark": {"type": "text", "text": "38.56", "fontSize": 14.3, "color": "#2962ff", "align": "left", "baseline": "middle", "font": "Lato"},
"encoding": {"x": {"value": 359}, "y": {"value": 19}}
},
{
"data": {"values": [{}]},
"mark": {"type": "text", "text": "+3.77 (+10.84%)", "fontSize": 14.3, "color": "#2962ff", "align": "left", "baseline": "middle", "font": "Lato"},
"encoding": {"x": {"value": 405}, "y": {"value": 19}}
},
{
"data": {"values": [{}]},
"mark": {"type": "point", "shape": "M-1,-0.6H-0.2V0.6H-0.6V-0.2H-1Z M-0.2,-0.4A0.2,0.2 0 1,0 0.2,-0.4A0.2,0.2 0 1,0 -0.2,-0.4Z M0.4,-0.6H1L0.45,0.6H-0.15Z", "filled": true, "color": "#000000", "opacity": 1, "size": 1369},
"encoding": {"x": {"value": 20}, "y": {"value": 1376}}
},
{
"data": {"values": [{}]},
"mark": {"type": "text", "text": "TradingView", "fontSize": 25, "fontWeight": "bold", "color": "#000000", "align": "left", "baseline": "middle", "font": "Inter"},
"encoding": {"x": {"value": 46}, "y": {"value": 1376}}
}
]
}
